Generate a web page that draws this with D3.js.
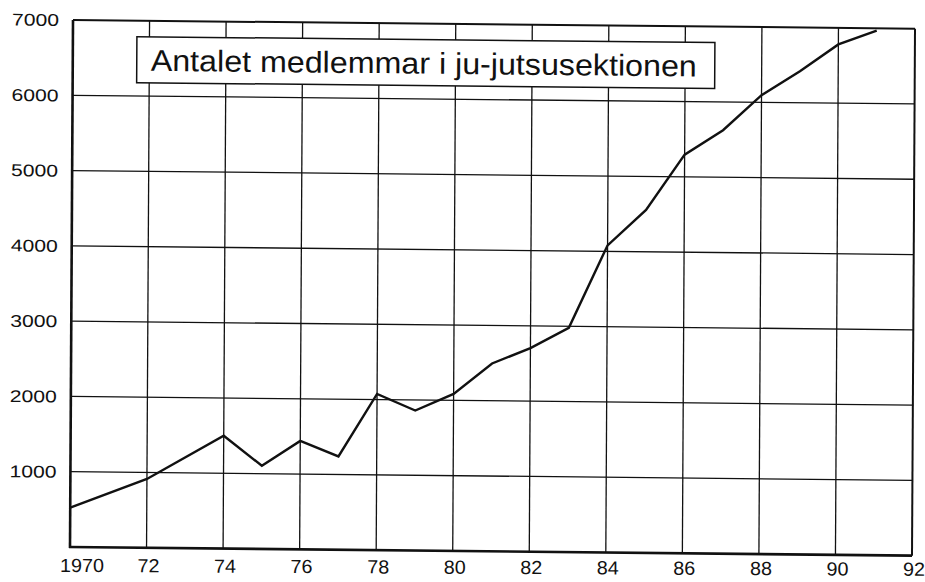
<!DOCTYPE html>
<html>
<head>
<meta charset="utf-8">
<script src="https://cdn.jsdelivr.net/npm/d3@7"></script>
<style>
  html, body { margin: 0; padding: 0; background: #fff; }
  svg { display: block; }
  text { font-family: "Liberation Sans", Arial, Helvetica, sans-serif; fill: #111; }
</style>
</head>
<body>
<svg id="chart" width="925" height="582"></svg>
<script>
// ---- data ----
const years   = [1970, 1972, 1974, 1975, 1976, 1977, 1978, 1979, 1980, 1981, 1982, 1983, 1984, 1985, 1986, 1987, 1988, 1989, 1990, 1991];
const members = [ 522,  914, 1499, 1105, 1440, 1240, 2075, 1860, 2085, 2495, 2705, 2980, 4080, 4555, 5295, 5625, 6095, 6420, 6780, 6970];
const xTickValues = [1970, 1972, 1974, 1976, 1978, 1980, 1982, 1984, 1986, 1988, 1990, 1992];
const xTickLabels = ["1970", "72", "74", "76", "78", "80", "82", "84", "86", "88", "90", "92"];
const yTickValues = [1000, 2000, 3000, 4000, 5000, 6000, 7000];
const yTickLabels = ["1000", "2000", "3000", "4000", "5000", "6000", "7000"];
const titleText = "Antalet medlemmar i ju-jutsusektionen";

// ---- layout ----
const W = 842, H = 527;
const svg = d3.select("#chart");
const g = svg.append("g")
  .attr("transform", `translate(70,547) matrix(1,0.0103,-0.0057,1,0,0) translate(0,${-H})`);

const x = d3.scaleLinear().domain([1970, 1992]).range([0, W]);
const y = d3.scaleLinear().domain([0, 7000]).range([H, 0]);

// grid lines
g.append("g").selectAll("line.v").data(xTickValues.slice(1, -1)).join("line")
  .attr("x1", d => x(d)).attr("x2", d => x(d))
  .attr("y1", 0).attr("y2", H)
  .attr("stroke", "#111").attr("stroke-width", 1.3);
g.append("g").selectAll("line.h").data(yTickValues.slice(0, -1)).join("line")
  .attr("x1", 0).attr("x2", W)
  .attr("y1", d => y(d)).attr("y2", d => y(d))
  .attr("stroke", "#111").attr("stroke-width", 1.3);

// frame
g.append("line").attr("x1", 0).attr("x2", W).attr("y1", y(7000)).attr("y2", y(7000)).attr("stroke", "#111").attr("stroke-width", 2);
g.append("line").attr("x1", x(1992)).attr("x2", x(1992)).attr("y1", 0).attr("y2", H).attr("stroke", "#111").attr("stroke-width", 2);
g.append("line").attr("x1", 0).attr("x2", 0).attr("y1", 0).attr("y2", H + 1).attr("stroke", "#111").attr("stroke-width", 2.6);
g.append("line").attr("x1", -1).attr("x2", W).attr("y1", H).attr("y2", H).attr("stroke", "#111").attr("stroke-width", 2.6);

// data line
const line = d3.line().x((d, i) => x(years[i])).y(d => y(d));
g.append("path").datum(members)
  .attr("d", line)
  .attr("fill", "none").attr("stroke", "#111").attr("stroke-width", 2.4)
  .attr("stroke-linejoin", "miter");

// title box
const box = g.append("g");
box.append("rect").attr("x", 64).attr("y", 16).attr("width", 578).attr("height", 46)
  .attr("fill", "#fff").attr("stroke", "#111").attr("stroke-width", 1.5);
box.append("text").attr("x", 78).attr("y", 50)
  .attr("font-size", 30)
  .attr("textLength", 546).attr("lengthAdjust", "spacingAndGlyphs")
  .text(titleText);

// y tick labels
g.append("g").selectAll("text").data(yTickValues).join("text")
  .attr("x", -14).attr("y", d => y(d))
  .attr("dy", "0.36em")
  .attr("text-anchor", "end")
  .attr("font-size", 17)
  .attr("textLength", 47).attr("lengthAdjust", "spacingAndGlyphs")
  .text((d, i) => yTickLabels[i]);

// x tick labels (slightly tilted baseline like the scan, kept inside the page)
const gx = svg.append("g").attr("transform", "translate(70,547) matrix(1,0.0045,0,1,0,0)");
gx.selectAll("text").data(xTickValues).join("text")
  .attr("x", (d, i) => x(d) + (i === 0 ? 12 : 2))
  .attr("y", 25)
  .attr("text-anchor", "middle")
  .attr("font-size", 19)
  .attr("textLength", (d, i) => xTickLabels[i].length * 11)
  .attr("lengthAdjust", "spacingAndGlyphs")
  .text((d, i) => xTickLabels[i]);
</script>
</body>
</html>
